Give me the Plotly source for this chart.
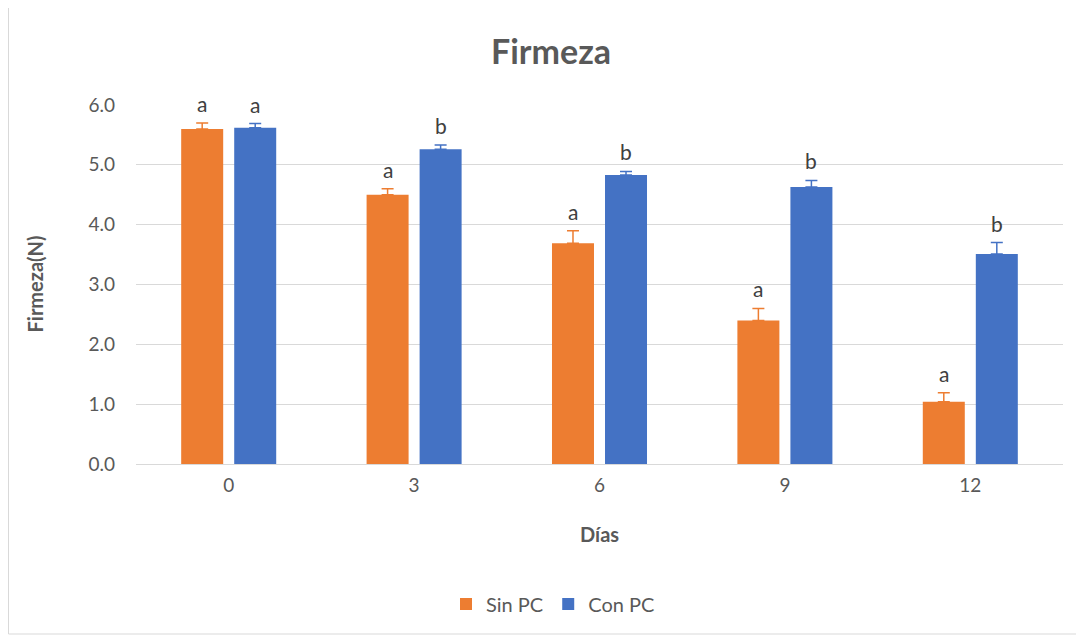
import plotly.graph_objects as go

days = ["0", "3", "6", "9", "12"]
sin_pc = [5.60, 4.50, 3.69, 2.40, 1.04]
sin_err = [0.10, 0.10, 0.21, 0.20, 0.15]
sin_letters = ["a", "a", "a", "a", "a"]
con_pc = [5.62, 5.26, 4.83, 4.63, 3.51]
con_err = [0.07, 0.07, 0.06, 0.11, 0.19]
con_letters = ["a", "b", "b", "b", "b"]

ORANGE = "#ED7D31"
BLUE = "#4472C4"
GRAY = "#595959"
FONT = "Lato"

W, H = 1076, 630  # page body has an 8px margin
L, R, T, B = 128, 21, 97, 174
PW, PH = W - L - R, H - T - B

fig = go.Figure()
fig.add_trace(go.Bar(
    x=days, y=sin_pc, name="Sin PC", marker=dict(color=ORANGE, line=dict(width=0)),
    error_y=dict(type="data", array=sin_err, symmetric=False, arrayminus=[0]*5,
                 color=ORANGE, thickness=1.5, width=6),
))
fig.add_trace(go.Bar(
    x=days, y=con_pc, name="Con PC", marker=dict(color=BLUE, line=dict(width=0)),
    error_y=dict(type="data", array=con_err, symmetric=False, arrayminus=[0]*5,
                 color=BLUE, thickness=1.5, width=6),
))

annotations = []
for i, d in enumerate(days):
    annotations.append(dict(x=i, y=sin_pc[i] + sin_err[i], xref="x", yref="y",
                            text=sin_letters[i], showarrow=False, xshift=-26.5,
                            yanchor="bottom", yshift=5,
                            font=dict(family=FONT, size=21, color="#404040")))
    annotations.append(dict(x=i, y=con_pc[i] + con_err[i], xref="x", yref="y",
                            text=con_letters[i], showarrow=False, xshift=26.5,
                            yanchor="bottom", yshift=5,
                            font=dict(family=FONT, size=21, color="#404040")))

annotations.append(dict(x=0, y=0.5, xref="paper", yref="paper", text="<b>Firmeza(N)</b>",
                        textangle=-90, showarrow=False, xanchor="center", yanchor="middle",
                        xshift=-102, font=dict(family=FONT, size=20, color=GRAY)))
annotations.append(dict(x=0.5, y=0, xref="paper", yref="paper", text="<b>Días</b>",
                        showarrow=False, xanchor="center", yanchor="middle",
                        yshift=-70, font=dict(family=FONT, size=20, color=GRAY)))

fig.update_layout(
    width=W, height=H,
    margin=dict(l=L, r=R, t=T, b=B, autoexpand=False),
    paper_bgcolor="white", plot_bgcolor="white",
    font=dict(family=FONT, color=GRAY),
    title=dict(text="<b>Firmeza</b>", x=543 / W, xanchor="center", xref="container",
               y=1 - 44 / H, yanchor="middle", yref="container",
               font=dict(family=FONT, size=34, color=GRAY)),
    barmode="group", bargap=0.428, bargroupgap=0.208,
    showlegend=True,
    legend=dict(orientation="h", x=(545 - L) / PW, xref="paper", xanchor="center",
                y=1 - 596 / H, yref="container", yanchor="middle",
                font=dict(family=FONT, size=20, color=GRAY), traceorder="normal"),
    annotations=annotations,
    shapes=[dict(type="rect", xref="paper", yref="paper",
                 x0=(0.5 - L) / PW, x1=(1069 - L) / PW,
                 y0=(H - B - 626) / PH, y1=(H - B + 0.5) / PH,
                 line=dict(color="#D9D9D9", width=1), fillcolor="rgba(0,0,0,0)", layer="below")],
)
fig.update_xaxes(type="category", range=[-0.5, 4.5], showgrid=False, showline=True,
                 linecolor="#D9D9D9", linewidth=1, ticklabelstandoff=4,
                 ticks="", tickfont=dict(family=FONT, size=19, color=GRAY))
fig.update_yaxes(range=[0, 6], dtick=1, tickformat=".1f", showgrid=True, gridcolor="#D9D9D9",
                 gridwidth=1, zeroline=False, showline=False, ticks="",
                 tickfont=dict(family=FONT, size=19, color=GRAY), ticklabelstandoff=20)

fig.write_html("out.html")
